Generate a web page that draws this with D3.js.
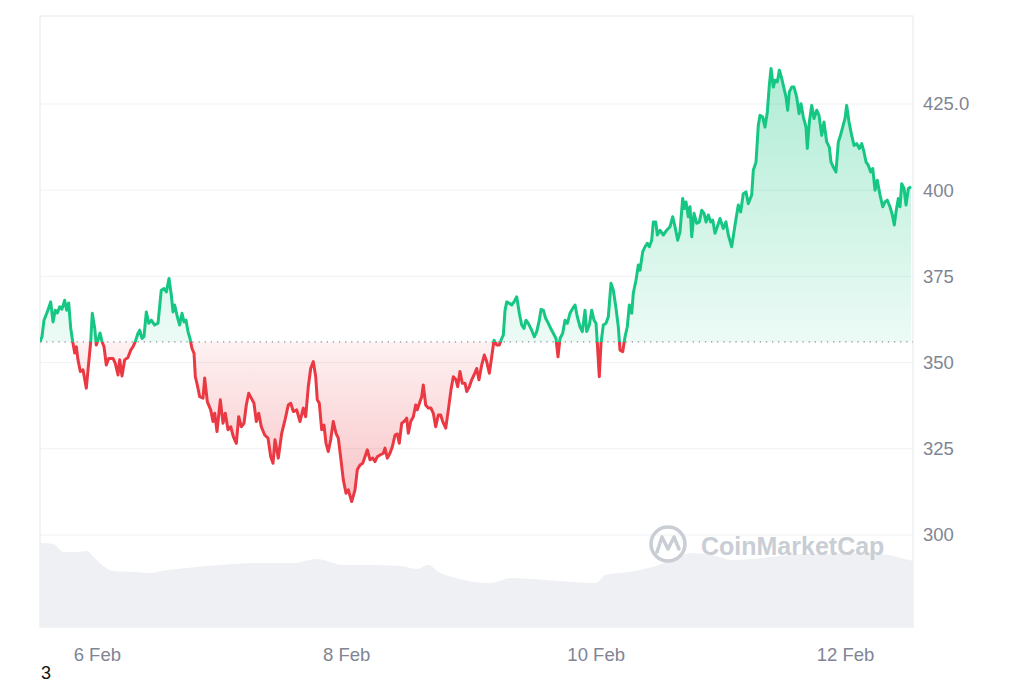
<!DOCTYPE html>
<html><head><meta charset="utf-8">
<script src="https://cdn.jsdelivr.net/npm/d3@7"></script>
<style>
body{margin:0;background:#fff;}
svg{display:block;font-family:"Liberation Sans",Arial,sans-serif;}
</style>
</head><body>
<svg id="chart" width="1024" height="683"></svg>
<script>
// ---------- DATA ----------
const startTime = Date.UTC(2024, 1, 5, 13, 4); // 5 Feb, 13:04
const spanHours = 168;

// hours since startTime
const hours = [0,0.38,0.77,1.40,2.06,2.50,2.94,3.33,3.79,4.23,4.75,5.14,5.52,5.91,6.29,6.68,6.99,7.31,7.76,8.27,8.91,9.24,9.76,10.06,10.53,10.83,11.16,11.55,11.93,12.32,12.76,13.22,14.05,14.49,15.01,15.34,15.78,16.30,16.93,17.45,17.90,18.34,18.86,19.19,19.63,20.01,20.46,20.92,21.42,22.07,22.71,23.34,23.86,24.31,24.83,25.27,25.59,25.92,26.42,26.88,27.33,27.71,28.10,28.48,28.87,29.25,29.64,29.89,30.27,30.73,31.37,31.69,32.20,32.85,33.29,33.62,34.06,34.70,35.22,35.66,36.18,36.70,37.20,37.78,38.24,38.74,39.26,39.70,40.16,40.66,41.18,41.63,42.09,42.59,43.24,43.88,44.40,44.84,
45.22,45.86,46.51,47.15,47.78,48.25,48.75,49.40,50.03,50.67,51.13,51.63,52.09,52.59,53.06,53.36,53.75,54.21,54.65,55.04,55.48,55.94,56.44,56.96,57.41,57.92,58.37,58.89,59.33,59.98,60.62,61.06,61.58,62.10,62.54,62.99,63.51,64.03,64.47,64.91,65.43,66.07,66.39,66.84,67.35,67.80,68.32,68.76,69.14,69.61,70.05,70.57,70.88,71.34,71.84,72.30,72.61,73.13,73.45,73.76,74.22,74.73,75.24,75.69,76.15,76.65,77.11,77.50,78.08,78.58,79.09,79.54,80.06,80.38,80.82,81.27,81.79,82.12,82.62,83.08,83.52,84.04,84.48,85.00,85.50,85.96,86.47,86.93,87.37,87.89,88.39,88.85,89.16,89.49,89.82,
90.31,90.77,91.22,91.74,92.24,92.70,93.14,93.53,93.97,94.62,95.12,95.59,96.09,96.41,96.86,97.32,97.82,98.28,98.78,99.30,99.68,100.07,100.59,101.03,101.48,101.99,102.51,102.96,103.40,103.92,104.36,104.88,105.21,105.71,106.17,106.61,107.00,107.25,107.63,107.96,108.40,108.92,109.37,109.88,110.33,110.85,111.29,111.62,112.14,112.58,113.02,113.41,113.87,114.17,114.69,115.14,115.46,115.98,116.43,116.87,117.26,117.72,118.03,118.49,118.80,119.31,119.95,120.60,121.24,121.76,122.20,122.72,123.16,123.68,123.99,124.32,124.76,125.09,125.42,125.86,126.38,126.88,127.34,127.78,128.17,128.61,129.07,129.46,129.90,130.34,
130.86,131.49,132.01,132.46,133.11,133.75,134.38,134.84,135.34,135.86,136.30,136.96,137.27,137.79,138.23,138.56,139.08,139.52,139.97,140.35,140.68,141.12,141.45,141.89,142.28,142.74,143.18,143.56,143.89,144.20,144.66,145.10,145.62,146.07,146.45,146.89,147.41,147.66,148.05,148.51,148.95,149.47,149.91,150.43,150.87,151.39,151.89,152.22,152.66,153.18,153.63,153.95,154.47,154.92,155.24,155.69,156.20,156.65,157.17,157.67,158.13,158.57,158.96,159.40,159.86,160.25,160.69,161.13,161.65,162.17,162.61,163.05,163.57,164.02,164.40,164.73,165.17,165.50,165.83,166.27,166.66,167.10,167.62];

const prices = [356.0,357.5,362.3,364.7,367.6,361.8,365.2,364.4,366.2,365.5,368.1,365.2,367.3,360.0,356.1,352.8,354.6,350.8,347.4,347.9,342.6,347.9,356.1,364.3,360.0,355.1,356.5,358.6,356.1,354.6,349.3,351.2,351.2,349.8,346.4,350.8,346.1,350.8,351.5,353.6,354.6,356.1,358.5,359.4,357.0,357.5,364.7,361.4,362.3,360.9,361.4,371.0,371.5,370.5,374.4,369.6,364.7,366.7,363.3,360.9,364.3,361.8,362.3,359.0,357.0,354.1,352.7,345.9,343.5,340.1,339.7,345.5,338.7,336.3,332.9,335.3,330.0,339.2,332.4,335.3,330.5,331.4,328.5,326.6,334.3,331.4,332.4,337.7,341.1,339.7,338.2,332.9,335.3,331.4,329.0,328.1,322.7,320.8,
327.6,322.3,329.5,333.4,337.7,338.2,335.8,336.3,332.9,336.8,334.3,343.0,348.3,350.3,345.9,339.2,338.2,330.5,331.9,326.6,324.2,327.6,332.9,329.5,328.1,321.8,316.0,312.1,313.1,309.7,313.1,318.9,320.3,320.8,322.7,324.7,321.8,322.3,321.3,322.7,323.2,323.7,325.2,322.3,323.7,325.6,329.0,329.3,326.6,332.4,332.9,333.9,329.5,332.9,334.3,337.7,336.3,338.7,340.1,343.5,337.7,336.8,336.8,335.3,331.4,334.8,334.8,332.9,331.0,336.3,342.1,345.9,345.0,343.0,347.4,344.0,344.0,341.6,343.0,345.0,346.4,348.3,345.0,349.3,352.2,350.3,346.9,351.7,356.5,355.1,355.1,357.0,358.0,365.2,367.6,
367.2,366.7,367.6,369.1,364.3,360.9,359.9,362.3,361.4,359.4,357.5,359.0,362.3,365.4,365.2,362.8,361.4,359.9,358.5,357.0,351.7,357.0,358.5,362.3,361.4,364.3,365.7,366.7,363.3,360.4,359.0,365.2,359.0,360.9,365.2,362.3,361.4,355.6,345.9,355.6,360.9,361.4,363.3,373.0,371.0,365.7,360.4,353.6,353.2,357.5,360.4,366.7,364.3,370.1,373.9,378.3,376.8,382.1,383.6,384.6,383.6,385.5,390.8,390.8,387.0,388.4,387.0,388.4,389.4,392.3,389.4,385.5,387.9,397.6,394.7,396.6,392.3,395.2,386.5,393.3,390.4,390.8,394.2,393.3,390.8,392.8,390.8,391.3,387.5,389.4,
391.8,388.9,390.8,387.0,383.6,389.9,395.7,393.7,399.0,399.5,396.1,398.6,405.8,408.2,418.8,421.7,421.2,418.3,422.7,430.4,435.3,429.9,431.9,431.4,434.8,432.4,429.5,427.0,423.2,428.5,429.9,429.9,427.0,422.2,425.1,421.2,418.3,412.1,419.8,424.6,420.8,423.2,421.7,415.9,419.8,414.0,412.5,408.2,406.7,405.3,414.0,415.4,418.3,420.8,424.6,419.8,415.9,413.0,413.5,412.1,413.5,411.1,408.2,407.2,405.3,406.3,400.0,402.9,398.6,395.2,396.6,397.1,395.2,392.8,389.9,393.7,397.6,395.2,401.9,400.5,395.7,400.5,401.0];

// volume (relative units) sampled over the same period
const volHours = [0,2.6,4.5,7.1,9.0,10.3,11.5,14.1,18.0,21.2,24.4,28.2,32.1,37.2,43.6,48.7,53.3,58.4,62.9,69.3,72.5,74.7,77.0,80.2,83.4,86.6,90.8,97.2,102.4,106.9,108.8,113.3,117.8,121.6,125.5,129.3,133.2,137.0,142.2,147.3,151.8,158.2,163.3,166.5,168];
const volumes = [84,83,75,75,76,70,64,56,55,54,57,59,61,63,64,64,68,62,62,61,58,62,54,49,45,44,49,47,45,44,52,55,60,67,74,72,67,68,71,73,73,74,72,68,66];

const yTicks = [300, 325, 350, 375, 400, 425];
const yTickLabels = ["300", "325", "350", "375", "400", "425.0"];
const xTickDates = [Date.UTC(2024,1,6), Date.UTC(2024,1,8), Date.UTC(2024,1,10), Date.UTC(2024,1,12)];
const xTickLabels = ["6 Feb", "8 Feb", "10 Feb", "12 Feb"];
const baseline = prices[0];
const watermark = "CoinMarketCap";
const footnote = "3";

// ---------- LAYOUT ----------
const L = 40, R = 913, T = 16, B = 627;
const UP = "#16c784", DOWN = "#ea3943";
const H = 3600 * 1000;

const svg = d3.select("#chart");
const x = d3.scaleUtc().domain([new Date(startTime), new Date(startTime + spanHours * H)]).range([L, R]);
const y = d3.scaleLinear().domain([300, 425]).range([535, 104]);
const yv = d3.scaleLinear().domain([0, 100]).range([B, B - 100]);

const pts = hours.map((h, i) => ({ t: new Date(startTime + h * H), p: prices[i] }));
const vpts = volHours.map((h, i) => ({ t: new Date(startTime + h * H), v: volumes[i] }));
const by = y(baseline);

const defs = svg.append("defs");
defs.append("clipPath").attr("id", "clipUp").append("rect")
  .attr("x", L).attr("y", T).attr("width", R - L).attr("height", by - T);
defs.append("clipPath").attr("id", "clipDown").append("rect")
  .attr("x", L).attr("y", by).attr("width", R - L).attr("height", B - by);

const gUp = defs.append("linearGradient").attr("id", "gUp")
  .attr("gradientUnits", "userSpaceOnUse").attr("x1", 0).attr("x2", 0).attr("y1", y(435)).attr("y2", by);
gUp.append("stop").attr("offset", 0).attr("stop-color", UP).attr("stop-opacity", 0.34);
gUp.append("stop").attr("offset", 1).attr("stop-color", UP).attr("stop-opacity", 0.08);
const gDown = defs.append("linearGradient").attr("id", "gDown")
  .attr("gradientUnits", "userSpaceOnUse").attr("x1", 0).attr("x2", 0).attr("y1", by).attr("y2", y(310));
gDown.append("stop").attr("offset", 0).attr("stop-color", DOWN).attr("stop-opacity", 0.07);
gDown.append("stop").attr("offset", 1).attr("stop-color", DOWN).attr("stop-opacity", 0.3);

// frame + gridlines
svg.append("g").selectAll("line").data(yTicks).join("line")
  .attr("x1", L).attr("x2", R).attr("y1", d => y(d)).attr("y2", d => y(d))
  .attr("stroke", "#eff1f4").attr("stroke-width", 1);
svg.append("rect").attr("x", L).attr("y", T).attr("width", R - L).attr("height", B - T)
  .attr("fill", "none").attr("stroke", "#e9ebee").attr("stroke-width", 1.2);

// volume
svg.append("path").datum(vpts)
  .attr("d", d3.area().x(d => x(d.t)).y0(B).y1(d => yv(d.v)).curve(d3.curveMonotoneX))
  .attr("fill", "#eef0f3");

// watermark
const wm = svg.append("g").attr("fill", "none").attr("stroke", "#c9cdd4");
wm.append("circle").attr("cx", 668).attr("cy", 544).attr("r", 17).attr("stroke-width", 3.5);
wm.append("path").attr("d", "M657,552 L662,537 L668,549 L674,537 L679,549").attr("stroke-width", 3.5)
  .attr("stroke-linejoin", "round").attr("stroke-linecap", "round");
svg.append("text").attr("x", 701).attr("y", 555).attr("font-size", 25).attr("font-weight", 700)
  .attr("fill", "#c9cdd4").text(watermark);

// price areas
const area = d3.area().x(d => x(d.t)).y0(by).y1(d => y(d.p));
svg.append("path").datum(pts).attr("d", area).attr("fill", "url(#gUp)").attr("clip-path", "url(#clipUp)");
svg.append("path").datum(pts).attr("d", area).attr("fill", "url(#gDown)").attr("clip-path", "url(#clipDown)");

// baseline dotted
svg.append("line").attr("x1", L).attr("x2", R).attr("y1", by).attr("y2", by)
  .attr("stroke", "#8b909b").attr("stroke-width", 1.3).attr("stroke-dasharray", "1.3,4.8");

// price lines
const line = d3.line().x(d => x(d.t)).y(d => y(d.p));
svg.append("path").datum(pts).attr("d", line).attr("fill", "none").attr("stroke", UP)
  .attr("stroke-width", 3).attr("stroke-linejoin", "round").attr("clip-path", "url(#clipUp)");
svg.append("path").datum(pts).attr("d", line).attr("fill", "none").attr("stroke", DOWN)
  .attr("stroke-width", 3).attr("stroke-linejoin", "round").attr("clip-path", "url(#clipDown)");

// axes
const yAxis = d3.axisRight(y).tickValues(yTicks).tickSize(0).tickPadding(10)
  .tickFormat((d, i) => yTickLabels[i]);
const gy = svg.append("g").attr("transform", `translate(${R},0)`).call(yAxis);
gy.select(".domain").remove();
gy.selectAll("text").attr("font-size", 18.5).attr("fill", "#7f8593").attr("font-family", "Liberation Sans, Arial, sans-serif");

const xAxis = d3.axisBottom(x).tickValues(xTickDates.map(d => new Date(d))).tickSize(0).tickPadding(21)
  .tickFormat((d, i) => xTickLabels[i]);
const gx = svg.append("g").attr("transform", `translate(0,${B})`).call(xAxis);
gx.select(".domain").remove();
gx.selectAll("text").attr("font-size", 18.5).attr("fill", "#7f8593").attr("font-family", "Liberation Sans, Arial, sans-serif");

svg.append("text").attr("x", 41).attr("y", 679).attr("font-size", 18).attr("fill", "#111").text(footnote);
</script>
</body></html>
